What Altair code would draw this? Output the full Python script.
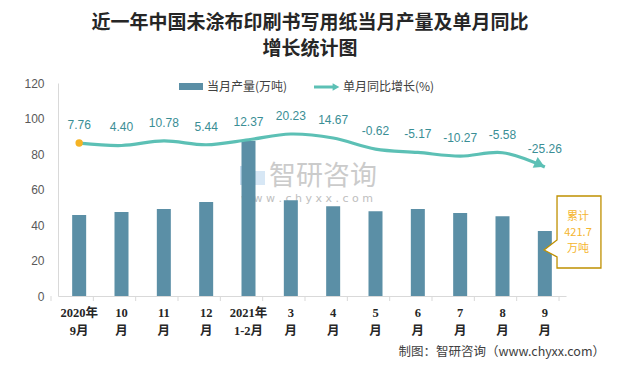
import altair as alt
import pandas as pd

categories = ["2020年|9月", "10|月", "11|月", "12|月", "2021年|1-2月", "3|月",
              "4|月", "5|月", "6|月", "7|月", "8|月", "9|月"]
output = [45.6, 47.3, 49.0, 52.9, 87.4, 54.0, 50.6, 47.8, 49.0, 46.7, 45.0, 36.6]
growth = [7.76, 4.40, 10.78, 5.44, 12.37, 20.23, 14.67, -0.62, -5.17, -10.27, -5.58, -25.26]
growth_labels = ["7.76", "4.40", "10.78", "5.44", "12.37", "20.23", "14.67",
                 "-0.62", "-5.17", "-10.27", "-5.58", "-25.26"]

title_lines = ["近一年中国未涂布印刷书写用纸当月产量及单月同比", "增长统计图"]
legend_bar = "当月产量(万吨)"
legend_line = "单月同比增长(%)"
callout_lines = ["累计", "421.7", "万吨"]
source = "制图：智研咨询（www.chyxx.com）"

df = pd.DataFrame({"cat": categories, "output": output, "growth": growth,
                   "glabel": growth_labels})
df["first"] = [i == 0 for i in range(len(df))]
df["last"] = [i == len(df) - 1 for i in range(len(df))]

W, H = 508, 213
FONT = "Noto Sans CJK SC"
BAR = "#5b8fa6"
LINE = "#5cc0b5"
LBL = "#3a8e95"
GOLD = "#bf9000"
CALL_TXT = "#f5b52e"

one = pd.DataFrame({"a": [0]})
base1 = alt.Chart(one)

xenc = alt.X("cat:N", sort=categories, title=None,
             scale=alt.Scale(paddingInner=0.67, paddingOuter=0.335),
             axis=alt.Axis(labelExpr="split(datum.value, '|')", labelAngle=0,
                           labelFont="Liberation Serif, Noto Sans CJK SC",
                           labelFontWeight="bold", labelFontSize=12.5,
                           labelColor="#262626", labelLineHeight=18,
                           labelBaseline="top", labelPadding=10,
                           labelOverlap=False, labelBound=False,
                           ticks=False, domainColor="#d9d9d9", grid=False,
                           zindex=1))

border = base1.mark_rect(fillOpacity=0, stroke="#a6a6a6", strokeWidth=1).encode(
    x=alt.value(-53), x2=alt.value(553), y=alt.value(-80), y2=alt.value(282))

# watermark
wm_icon1 = base1.mark_rect(color="#9dc3e6", opacity=0.55).encode(
    x=alt.value(182), x2=alt.value(192), y=alt.value(83), y2=alt.value(102))
wm_icon2 = base1.mark_rect(color="#bdd7ee", opacity=0.6).encode(
    x=alt.value(194), x2=alt.value(207), y=alt.value(88), y2=alt.value(102))
wm_text = base1.mark_text(text="智研咨询", font=FONT, fontSize=27, color="#bfbfbf",
                          opacity=0.8, align="left", baseline="middle").encode(
    x=alt.value(211), y=alt.value(94))
wm_url = base1.mark_text(text="w w w . c h y x x . c o m", font="DejaVu Sans",
                         fontSize=11, color="#b0b0b0", opacity=0.8,
                         align="left", baseline="middle").encode(
    x=alt.value(183), y=alt.value(116))

bars = alt.Chart(df).mark_bar(color=BAR, size=14).encode(
    x=xenc,
    y=alt.Y("output:Q", title=None,
            scale=alt.Scale(domain=[0, 120], nice=False),
            axis=alt.Axis(values=[0, 20, 40, 60, 80, 100, 120], ticks=False,
                          grid=False, domainColor="#d9d9d9", labelColor="#595959",
                          labelFontSize=12, labelFont="Liberation Sans",
                          labelPadding=14, zindex=1)))

ticks_x = alt.Chart(df).mark_rule(color="#d9d9d9").encode(
    x=xenc, y=alt.value(H), y2=alt.value(H + 5), xOffset=alt.value(-21.17))
ticks_end = alt.Chart(df).transform_filter("datum.last").mark_rule(color="#d9d9d9").encode(
    x=xenc, y=alt.value(H), y2=alt.value(H + 5), xOffset=alt.value(21.17))

yline = alt.Y("growth:Q", scale=alt.Scale(domain=[-203.2, 90.6], nice=False), axis=None)

line = alt.Chart(df).mark_line(color=LINE, strokeWidth=3.2,
                               interpolate="catmull-rom").encode(x=xenc, y=yline)
arrow = alt.Chart(df).transform_filter("datum.last").mark_point(
    shape="triangle-right", filled=True, color=LINE, opacity=1, size=140,
    angle=25, xOffset=-5, yOffset=-2.4).encode(x=xenc, y=yline)
first_pt = alt.Chart(df).transform_filter("datum.first").mark_point(
    shape="circle", filled=True, color="#f5b324", opacity=1, size=55).encode(
    x=xenc, y=yline)
line_labels = alt.Chart(df).mark_text(font="Liberation Sans", fontSize=12,
                                      color=LBL, dy=-18).encode(
    x=xenc, y=yline, text="glabel:N")

# titles
title1 = base1.mark_text(text=title_lines[0], font=FONT, fontSize=19,
                         fontWeight="bold", color="#262626").encode(
    x=alt.value(252), y=alt.value(-60))
title2 = base1.mark_text(text=title_lines[1], font=FONT, fontSize=19,
                         fontWeight="bold", color="#262626").encode(
    x=alt.value(252), y=alt.value(-34))

# legend
leg_sw = base1.mark_rect(color=BAR).encode(
    x=alt.value(121), x2=alt.value(145), y=alt.value(0), y2=alt.value(7))
leg_t1 = base1.mark_text(text=legend_bar, font=FONT, fontSize=12, color="#404040",
                         align="left", baseline="middle").encode(
    x=alt.value(149), y=alt.value(3.5))
leg_ln = base1.mark_rule(color=LINE, strokeWidth=3).encode(
    x=alt.value(256), x2=alt.value(276), y=alt.value(4))
leg_ar = base1.mark_point(shape="triangle-right", filled=True, color=LINE,
                          opacity=1, size=60).encode(x=alt.value(278), y=alt.value(4))
leg_t2 = base1.mark_text(text=legend_line, font=FONT, fontSize=12, color="#404040",
                         align="left", baseline="middle").encode(
    x=alt.value(285), y=alt.value(4))

# callout
callout_path = ("M -0.43 -1 L 0.79 -1 L 0.79 1 L -0.43 1 L -0.43 0.69 "
                "L -0.79 0.5 L -0.43 0.22 Z")
callout = base1.mark_point(shape=callout_path, filled=False, fill="white",
                           fillOpacity=1, stroke=GOLD, strokeWidth=1.3,
                           opacity=1, size=72 * 72).encode(
    x=alt.value(514.5), y=alt.value(149))
cl = [base1.mark_text(text=t, font=FONT, fontSize=11, color=CALL_TXT).encode(
    x=alt.value(520), y=alt.value(yy))
    for t, yy in zip(callout_lines, [134, 150, 166])]

src = base1.mark_text(text=source, font=FONT, fontSize=12.5, color="#404040",
                      align="right", baseline="middle").encode(
    x=alt.value(547), y=alt.value(269))

chart = alt.layer(
    border, wm_icon1, wm_icon2, wm_text, wm_url, bars, ticks_x, ticks_end,
    line, arrow, first_pt, line_labels, title1, title2,
    leg_sw, leg_t1, leg_ln, leg_ar, leg_t2, callout, *cl, src
).resolve_scale(y="independent").properties(
    width=W, height=H,
    autosize=alt.AutoSizeParams(type="none"),
    padding={"left": 50, "top": 75, "right": 43, "bottom": 65},
).configure_view(stroke=None)

chart.save("out.html", embed_options={"renderer": "svg", "actions": False})
